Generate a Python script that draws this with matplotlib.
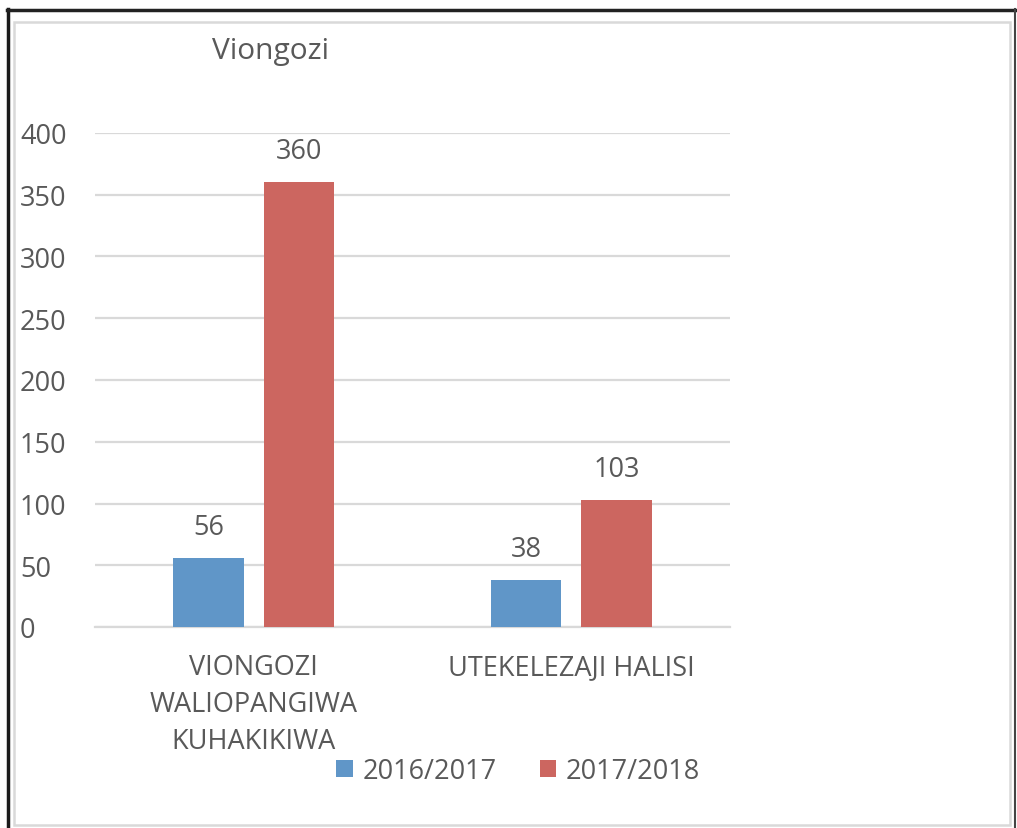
import matplotlib.pyplot as plt
from matplotlib.patches import Rectangle
from matplotlib.lines import Line2D
import numpy as np

plt.rcParams['font.family'] = ['Open Sans', 'DejaVu Sans']

categories = ['VIONGOZI\nWALIOPANGIWA\nKUHAKIKIWA', 'UTEKELEZAJI HALISI']
series_names = ['2016/2017', '2017/2018']
values_2016 = [56, 38]
values_2017 = [360, 103]
colors = ['#6096C8', '#CC6660']
text_color = '#595959'
grid_color = '#D9D9D9'

W, H = 1017, 829
fig = plt.figure(figsize=(W / 100, H / 100), dpi=100)

# frames (outer dark, inner light gray)
fig.add_artist(Line2D([8 / W, 8 / W], [0, 1 - 10 / H], transform=fig.transFigure,
                      color='#1a1a1a', lw=2.5))
fig.add_artist(Line2D([7 / W, 1015 / W], [1 - 11 / H, 1 - 11 / H], transform=fig.transFigure,
                      color='#222222', lw=2.5))
fig.add_artist(Line2D([1015 / W, 1015 / W], [0, 1 - 10 / H], transform=fig.transFigure,
                      color='#444444', lw=1.5))
fig.add_artist(Rectangle((14 / W, 3 / H), (1010 - 14) / W, (826 - 23) / H,
                         transform=fig.transFigure, fill=False,
                         edgecolor=grid_color, lw=1.8))

ax = fig.add_axes([95 / W, 1 - 628 / H, (730 - 95) / W, (628 - 134) / H])
x = np.arange(len(categories))
width = 0.222
offset = 0.143

bars1 = ax.bar(x - offset, values_2016, width, color=colors[0], label=series_names[0], zorder=3)
bars2 = ax.bar(x + offset, values_2017, width, color=colors[1], label=series_names[1], zorder=3)

for bars in (bars1, bars2):
    for b in bars:
        ax.text(b.get_x() + b.get_width() / 2, b.get_height() + 14, f'{int(b.get_height())}',
                ha='center', va='bottom', fontsize=19.5, color=text_color)

ax.set_xlim(-0.5, 1.5)
ax.set_ylim(0, 400)
ax.set_yticks(range(0, 401, 50))
ax.yaxis.grid(True, color=grid_color, lw=1.6, zorder=0)
ax.set_axisbelow(True)
for s in ['top', 'right', 'left']:
    ax.spines[s].set_visible(False)
ax.spines['bottom'].set_color(grid_color)
ax.spines['bottom'].set_linewidth(1.6)
ax.tick_params(axis='y', length=0, pad=54, labelsize=19.5, labelcolor=text_color)
ax.tick_params(axis='x', length=0, pad=19, labelsize=19.5, labelcolor=text_color)
ax.set_xticks(x)
ax.set_xticklabels(categories, linespacing=1.42)
for lab in ax.get_yticklabels():
    lab.set_horizontalalignment('left')

fig.text(212 / W, 1 - 52 / H, 'Viongozi', fontsize=21.5, color=text_color, va='center')

leg = fig.legend(loc='center', bbox_to_anchor=(518 / W, 1 - 772 / H), ncol=2, frameon=False,
                 fontsize=19.5, handlelength=0.6, handleheight=0.6, handletextpad=0.35,
                 columnspacing=1.6, labelcolor=text_color)

fig.savefig('out.png', dpi=100)
